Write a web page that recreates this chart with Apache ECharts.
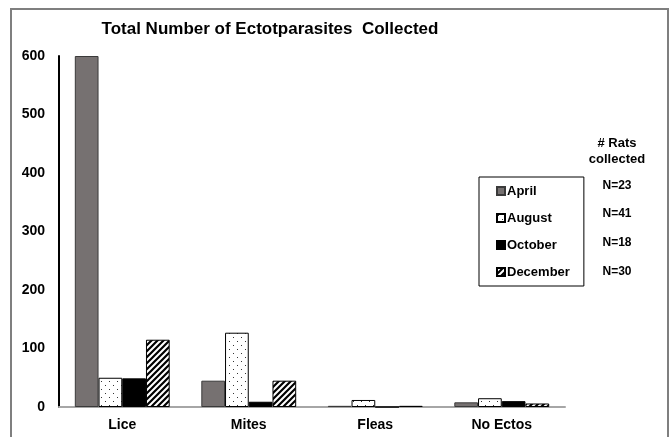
<!DOCTYPE html>
<html>
<head>
<meta charset="utf-8">
<script src="https://cdn.jsdelivr.net/npm/echarts@6/dist/echarts.min.js"></script>
<style>
  html, body { margin: 0; padding: 0; background: #ffffff; }
  #chart { width: 670px; height: 437px; }
</style>
</head>
<body>
<div id="chart"></div>
<script>
// Ectoparasite counts by type and collection month
const categories = ['Lice', 'Mites', 'Fleas', 'No Ectos'];
const months = ['April', 'August', 'October', 'December'];
const april = [600, 45, 2, 8];
const august = [50, 127, 12, 15];
const october = [49, 9, 0, 10];
const december = [115, 45, 2, 6];
const ratCounts = ['N=23', 'N=41', 'N=18', 'N=30'];
const yTicks = [0, 100, 200, 300, 400, 500, 600];

const FONT = '"Liberation Sans", Arial, sans-serif';

// Small repeating fills for the patterned bars
function dotPattern() {
  const c = document.createElement('canvas');
  c.width = 8; c.height = 8;
  const g = c.getContext('2d');
  g.fillStyle = '#ffffff';
  g.fillRect(0, 0, 8, 8);
  g.fillStyle = '#333333';
  g.fillRect(1, 1, 1, 1);
  g.fillRect(5, 5, 1, 1);
  return c;
}
function stripePattern() {
  const s = 6;
  const c = document.createElement('canvas');
  c.width = s; c.height = s;
  const g = c.getContext('2d');
  g.fillStyle = '#ffffff';
  g.fillRect(0, 0, s, s);
  g.strokeStyle = '#000000';
  g.lineWidth = 2.2;
  g.beginPath();
  g.moveTo(-1, s + 1); g.lineTo(s + 1, -1);
  g.moveTo(-s / 2 - 1, s / 2 + 1); g.lineTo(s / 2 + 1, -s / 2 - 1);
  g.moveTo(s / 2 - 1, s * 1.5 + 1); g.lineTo(s * 1.5 + 1, s / 2 - 1);
  g.stroke();
  return c;
}

const styles = [
  { color: '#767171', borderColor: '#3a3a3a', borderWidth: 1 },
  { color: { image: dotPattern(), repeat: 'repeat' }, borderColor: '#000000', borderWidth: 1 },
  { color: '#000000', borderColor: '#000000', borderWidth: 1 },
  { color: { image: stripePattern(), repeat: 'repeat' }, borderColor: '#000000', borderWidth: 1 }
];
const values = [april, august, october, december];

const series = months.map((m, i) => ({
  name: m,
  type: 'bar',
  data: values[i],
  barGap: '0%',
  barCategoryGap: '25%',
  itemStyle: styles[i],
  emphasis: { disabled: true }
}));

// Side column: header plus number of rats per month
const sideText = [
  { text: '# Rats', y: 143, size: 13 },
  { text: 'collected', y: 159, size: 13 }
].concat(ratCounts.map((t, i) => ({ text: t, y: [186, 214, 243, 272][i], size: 12 })));

const chart = echarts.init(document.getElementById('chart'), null, { renderer: 'canvas' });
chart.setOption({
  animation: false,
  backgroundColor: '#ffffff',
  title: {
    text: 'Total Number of Ectotparasites  Collected',
    left: 265,
    textAlign: 'center',
    top: 16,
    textStyle: { fontFamily: FONT, fontSize: 17, fontWeight: 'bold', color: '#000000' }
  },
  grid: { left: 59, right: 105, top: 56, bottom: 30, containLabel: false },
  xAxis: {
    type: 'category',
    data: categories,
    axisLine: { lineStyle: { color: '#a6a6a6', width: 2 } },
    axisTick: { show: false },
    axisLabel: { fontFamily: FONT, fontSize: 14, fontWeight: 'bold', color: '#000000', margin: 11 }
  },
  yAxis: {
    type: 'value',
    min: yTicks[0],
    max: yTicks[yTicks.length - 1],
    interval: 100,
    axisLine: { show: true, lineStyle: { color: '#000000', width: 2 } },
    axisTick: { show: false },
    splitLine: { show: false },
    axisLabel: { fontFamily: FONT, fontSize: 14, fontWeight: 'bold', color: '#000000', margin: 14 }
  },
  legend: {
    data: months.map(m => ({ name: m, icon: 'rect' })),
    orient: 'vertical',
    left: 479,
    top: 177,
    itemWidth: 8,
    itemHeight: 8,
    itemGap: 13,
    padding: [7, 14, 7, 17],
    borderColor: '#000000',
    borderWidth: 1,
    selectedMode: false,
    textStyle: { fontFamily: FONT, fontSize: 13, fontWeight: 'bold', color: '#000000', padding: [0, 0, 0, -3], lineHeight: 14 }
  },
  graphic: [
    {
      type: 'rect',
      silent: true,
      shape: { x: 11, y: 9, width: 657, height: 450 },
      style: { fill: 'none', stroke: '#7f7f7f', lineWidth: 2 }
    }
  ].concat(sideText.map(t => ({
    type: 'text',
    silent: true,
    x: 617,
    y: t.y,
    style: {
      text: t.text,
      align: 'center',
      verticalAlign: 'middle',
      font: 'bold ' + t.size + 'px ' + FONT,
      fill: '#000000'
    }
  }))),
  series: series
});
</script>
</body>
</html>
